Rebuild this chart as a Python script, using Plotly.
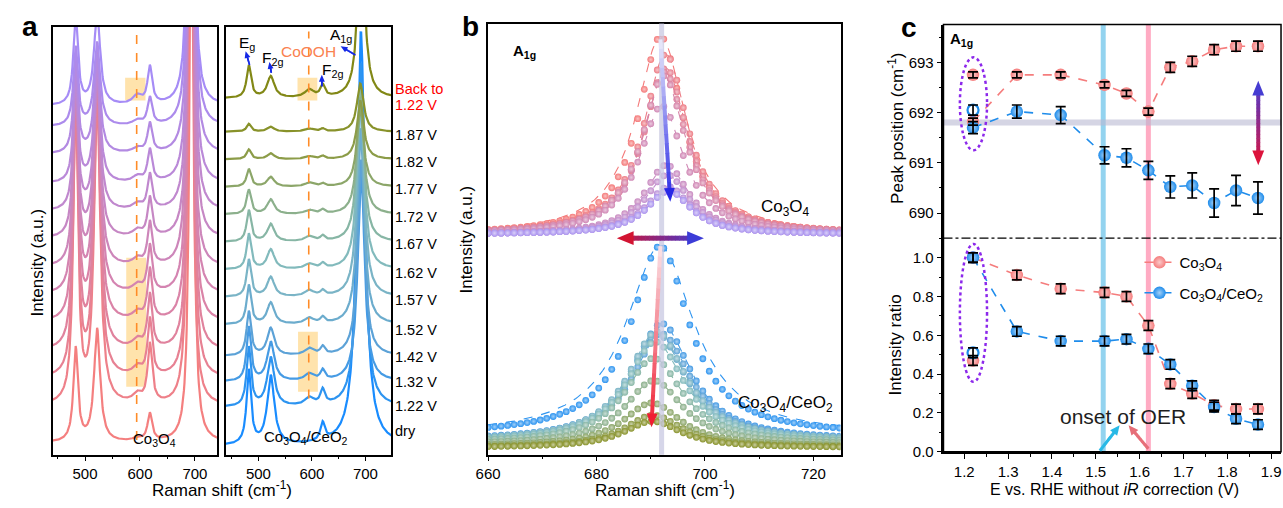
import numpy as np
import plotly.graph_objects as go

W, H = 1283, 508
FONT = "Arial, Liberation Sans, sans-serif"

# ---------------- data ----------------
potentials = [1.22, 1.32, 1.42, 1.52, 1.57, 1.62, 1.67, 1.72, 1.77, 1.82, 1.87]
pos_co = [691.82, 692.75, 692.75, 692.55, 692.38, 692.02, 692.90, 693.02, 693.25, 693.32, 693.32]
pos_co_err = [0.07, 0.06, 0.06, 0.06, 0.06, 0.07, 0.10, 0.10, 0.10, 0.10, 0.10]
pos_ce = [691.70, 692.02, 691.95, 691.15, 691.10, 690.85, 690.52, 690.55, 690.20, 690.45, 690.30]
pos_ce_err = [0.12, 0.13, 0.17, 0.17, 0.18, 0.18, 0.22, 0.25, 0.28, 0.30, 0.32]
pos_co_back, pos_co_back_err = 692.75, 0.06
pos_ce_back, pos_ce_back_err = 692.05, 0.10
ratio_co = [1.0, 0.91, 0.84, 0.82, 0.80, 0.65, 0.35, 0.30, 0.24, 0.22, 0.22]
ratio_ce = [1.0, 0.62, 0.57, 0.57, 0.58, 0.53, 0.45, 0.34, 0.23, 0.17, 0.14]
ratio_co_back, ratio_ce_back = 0.47, 0.51
ratio_err = 0.025
onset_ce, onset_co = 1.517, 1.62
ref_position = 691.8

# panel a: 13 spectra, index 0 = dry, 1..11 = potentials, 12 = back to 1.22 V
a_labels = ['dry', '1.22 V', '1.32 V', '1.42 V', '1.52 V', '1.57 V', '1.62 V', '1.67 V',
            '1.72 V', '1.77 V', '1.82 V', '1.87 V', 'Back to<br>1.22 V']
co_base = [12, 49, 77, 105, 134, 162, 190, 219, 247, 275, 305, 333, 354]
co_eg = [95, 310, 295, 280, 260, 235, 200, 165, 135, 110, 95, 80, 90]
co_f2g1 = [115, 320, 305, 290, 270, 245, 210, 175, 145, 120, 100, 85, 95]
co_f2g2 = [28, 60, 58, 55, 52, 48, 44, 40, 36, 33, 30, 28, 38]
co_cooh = [3, 9, 9, 9, 8, 8, 7, 7, 6, 6, 5, 5, 9]
co_a1g = [700, 800, 800, 800, 800, 800, 800, 800, 800, 800, 800, 800, 800]
co_a1g_c = [694.0] + pos_co + [pos_co_back]
ce_base = [9, 48, 74, 100, 132, 160, 188, 216, 244, 272, 300, 328, 362]
ce_eg = [75, 60, 55, 45, 40, 38, 36, 32, 25, 18, 10, 8, 33]
ce_f2g1 = [70, 50, 40, 28, 22, 20, 20, 18, 15, 10, 6, 5, 22]
ce_f2g2 = [18, 15, 10, 8, 6, 5, 5, 5, 4, 3, 3, 3, 12]
ce_cooh = [0, 8, 7, 7, 6, 6, 5, 5, 4, 4, 3, 3, 8]
ce_a1g = [421] + [r * 350 for r in ratio_ce] + [ratio_ce_back * 350]
ce_a1g_c = [691.5] + pos_ce + [pos_ce_back]

# ---------------- helpers ----------------
def pxx(x):
    return x / W

def pyy(y):
    return 1 - y / H

def lor(x, c, h, g):
    return h * g ** 2 / ((x - c) ** 2 + g ** 2)

def rgb(c):
    return 'rgb(%d,%d,%d)' % tuple(int(round(v)) for v in c)

def mix(c0, c1, t):
    return tuple(c0[k] + (c1[k] - c0[k]) * t for k in range(3))

WHITE = (255, 255, 255)
shapes = []
annotations = []

def tri(x, y, ux, uy, hl, hw, col):
    bx, by = x - ux * hl, y - uy * hl
    nx, ny = -uy, ux
    p = [(x, y), (bx + nx * hw / 2, by + ny * hw / 2), (bx - nx * hw / 2, by - ny * hw / 2)]
    path = 'M %f %f L %f %f L %f %f Z' % (pxx(p[0][0]), pyy(p[0][1]), pxx(p[1][0]), pyy(p[1][1]),
                                          pxx(p[2][0]), pyy(p[2][1]))
    shapes.append(dict(type='path', xref='paper', yref='paper', path=path,
                       fillcolor=rgb(col), line=dict(width=0)))

def grad_arrow(p0, p1, c0, c1, w, hl, hw, both=False, n=16):
    x0, y0 = p0
    x1, y1 = p1
    dx, dy = x1 - x0, y1 - y0
    L = (dx * dx + dy * dy) ** 0.5
    ux, uy = dx / L, dy / L
    s0 = hl * 0.8 if both else 0
    s1 = L - hl * 0.8
    for i in range(n):
        t0 = s0 + (s1 - s0) * i / n
        t1 = min(s1, s0 + (s1 - s0) * (i + 1) / n + 0.6)
        tm = (t0 + t1) / 2 / L
        shapes.append(dict(type='line', xref='paper', yref='paper',
                           x0=pxx(x0 + ux * t0), y0=pyy(y0 + uy * t0),
                           x1=pxx(x0 + ux * t1), y1=pyy(y0 + uy * t1),
                           line=dict(color=rgb(mix(c0, c1, tm)), width=w)))
    tri(x1, y1, ux, uy, hl, hw, c1)
    if both:
        tri(x0, y0, -ux, -uy, hl, hw, c0)

def text(x, y, s, size=15, color='black', xanchor='center', yanchor='middle', angle=0):
    annotations.append(dict(x=pxx(x), y=pyy(y), xref='paper', yref='paper', text=s,
                            showarrow=False, xanchor=xanchor, yanchor=yanchor, textangle=angle,
                            font=dict(family=FONT, size=size, color=color)))

def sphere(col, size, tint=0.6):
    return dict(size=size, color=rgb(col), line=dict(width=0),
                gradient=dict(type='radial', color=rgb(mix(col, WHITE, tint))))

fig = go.Figure()

# ---------------- panel a ----------------
x_a = np.arange(436, 752, 1.0)
co_bot, co_top = (244, 127, 127), (166, 140, 246)
for i in range(13):
    y = (co_base[i] + lor(x_a, 483, co_eg[i], 5) + lor(x_a, 522, co_f2g1[i], 6.5)
         + lor(x_a, 595, co_cooh[i], 10) + lor(x_a, 618, co_f2g2[i], 5)
         + lor(x_a, co_a1g_c[i], co_a1g[i], 4))
    fig.add_trace(go.Scatter(x=x_a, y=y, mode='lines', xaxis='x', yaxis='y', showlegend=False,
                             line=dict(color=rgb(mix(co_bot, co_top, i / 12)), width=2.2),
                             hoverinfo='skip'))

ce_cols = [(25, 140, 255), (45, 148, 240), (70, 155, 228), (92, 162, 215), (108, 172, 205),
           (122, 180, 198), (130, 186, 188), (135, 182, 165), (140, 176, 140), (140, 166, 105),
           (140, 156, 72), (136, 146, 42), (130, 136, 22)]
for i in range(13):
    y = (ce_base[i] + lor(x_a, 482, ce_eg[i], 5) + lor(x_a, 523, ce_f2g1[i], 8)
         + lor(x_a, 595, ce_cooh[i], 10) + lor(x_a, 620, ce_f2g2[i], 5)
         + lor(x_a, ce_a1g_c[i], ce_a1g[i], 9 if i == 0 else 7.5))
    fig.add_trace(go.Scatter(x=x_a, y=y, mode='lines', xaxis='x2', yaxis='y2', showlegend=False,
                             line=dict(color=rgb(ce_cols[i]), width=2.2), hoverinfo='skip'))

# highlight boxes and dashed CoOOH line (panel a)
hl_col = 'rgba(255,200,90,0.5)'
for xr, yr in (('x', 'y'), ('x2', 'y2')):
    shapes.append(dict(type='rect', xref=xr, yref=yr, x0=573, x1=610, y0=462 - 102, y1=462 - 79,
                       fillcolor=hl_col, line=dict(width=0), layer='below'))
shapes.append(dict(type='rect', xref='x', yref='y', x0=575, x1=611, y0=462 - 393, y1=462 - 262,
                   fillcolor=hl_col, line=dict(width=0), layer='below'))
shapes.append(dict(type='rect', xref='x2', yref='y2', x0=574, x1=611, y0=462 - 398, y1=462 - 337,
                   fillcolor=hl_col, line=dict(width=0), layer='below'))
shapes.append(dict(type='line', xref='x', yref='y', x0=594, x1=594, y0=15, y1=429,
                   line=dict(color='rgb(255,140,40)', width=1.6, dash='dash')))
shapes.append(dict(type='line', xref='x2', yref='y2', x0=594, x1=594, y0=57, y1=430,
                   line=dict(color='rgb(255,140,40)', width=1.6, dash='dash')))

label_py = [438, 413, 388, 363, 335, 305, 277, 248, 220, 192, 165, 137, 90]
for lab, yy in zip(a_labels, label_py):
    col = 'red' if lab.startswith('Back') else 'black'
    for k, part in enumerate(lab.split('<br>')):
        text(384, yy + 17 * k, part, size=14.5, color=col, xanchor='left')

text(143, 447, 'Co<sub>3</sub>O<sub>4</sub>', size=15)
text(296, 445, 'Co<sub>3</sub>O<sub>4</sub>/CeO<sub>2</sub>', size=15)
text(299, 52, 'CoOOH', size=15.5, color='rgb(250,130,80)')
text(236, 44, 'E<sub>g</sub>', size=15.5)
text(263, 59, 'F<sub>2g</sub>', size=15.5)
text(323, 72, 'F<sub>2g</sub>', size=15.5)
text(331, 36, 'A<sub>1g</sub>', size=15.5)
blue = (20, 40, 230)
grad_arrow((239, 66), (235, 52), blue, blue, 1.6, 7, 6)
grad_arrow((261, 74), (259, 63), blue, blue, 1.6, 7, 6)
grad_arrow((312, 88), (312, 76), blue, blue, 1.6, 7, 6)
grad_arrow((346, 56), (331, 47), blue, blue, 1.6, 7, 6)

text(25, 267, 'Intensity (a.u.)', size=17, angle=-90)
text(211, 497, 'Raman shift (cm<sup>-1</sup>)', size=17)
text(17, 27, '<b>a</b>', size=28)

# ---------------- panel b ----------------
x_b = np.arange(660, 725.01, 1.2)
x_f = np.linspace(660, 725, 400)
co_b_bot, co_b_top = (244, 122, 122), (172, 150, 240)
for i in range(11):
    col = mix(co_b_bot, co_b_top, i / 10)
    fig.add_trace(go.Scatter(x=x_f, y=224 + ratio_co[i] * lor(x_f, pos_co[i], 201, 5.6 if i == 0 else 5),
                             mode='lines', xaxis='x3', yaxis='y3', showlegend=False, hoverinfo='skip',
                             line=dict(color=rgb(col), width=1.1, dash='dash')))
    fig.add_trace(go.Scatter(x=x_b, y=224 + ratio_co[i] * lor(x_b, pos_co[i], 201, 5), mode='markers',
                             xaxis='x3', yaxis='y3', showlegend=False, hoverinfo='skip',
                             marker=sphere(col, 6.8, 0.55)))
for i in range(11):
    col = ce_cols[i + 1]
    fig.add_trace(go.Scatter(x=x_f, y=5 + ratio_ce[i] * (15 + lor(x_f, pos_ce[i], 192, 7.6 if i == 0 else 6.5)),
                             mode='lines', xaxis='x3', yaxis='y3', showlegend=False, hoverinfo='skip',
                             line=dict(color=rgb(col), width=1.1, dash='dash')))
    fig.add_trace(go.Scatter(x=x_b, y=5 + ratio_ce[i] * (15 + lor(x_b, pos_ce[i], 192, 6.5)),
                             mode='markers', xaxis='x3', yaxis='y3', showlegend=False, hoverinfo='skip',
                             marker=sphere(col, 6.8, 0.55)))

shapes.append(dict(type='line', xref='x3', yref='paper', x0=692.0, x1=692.0, y0=pyy(462), y1=pyy(24),
                   line=dict(color='rgba(200,200,225,0.75)', width=5), layer='above'))
grad_arrow((654, 40), (664, 205), (235, 235, 250), (40, 40, 230), 4, 14, 11)
grad_arrow((654, 250), (645, 434), (250, 228, 232), (240, 30, 50), 4, 14, 11)
grad_arrow((610, 242), (698, 242), (210, 20, 50), (60, 60, 215), 5, 17, 14, both=True)

text(517, 52, '<b>A<sub>1g</sub></b>', size=15)
text(780, 211, 'Co<sub>3</sub>O<sub>4</sub>', size=17)
text(780, 410, 'Co<sub>3</sub>O<sub>4</sub>/CeO<sub>2</sub>', size=17)
text(458, 243, 'Intensity (a.u.)', size=17, angle=-90)
text(659, 497, 'Raman shift (cm<sup>-1</sup>)', size=17)
text(462, 27, '<b>b</b>', size=28)

# ---------------- panel c ----------------
RED_C = (245, 125, 125)
BLUE_C = (30, 140, 235)
RED = rgb(RED_C)
BLUE = rgb(BLUE_C)

def err_trace(x, y, e, xa, ya):
    return go.Scatter(x=x, y=y, mode='markers', xaxis=xa, yaxis=ya, showlegend=False,
                      hoverinfo='skip', marker=dict(size=1, color='rgba(0,0,0,0)'),
                      error_y=dict(type='data', array=e, color='black', thickness=1.7, width=5))

# top: peak position
fig.add_trace(go.Scatter(x=potentials, y=pos_co, mode='lines+markers', xaxis='x4', yaxis='y4',
                         showlegend=False, line=dict(color=RED, width=1.6, dash='dash'),
                         marker=sphere(RED_C, 12.5)))
fig.add_trace(go.Scatter(x=[potentials[0]], y=[pos_co_back], mode='markers', xaxis='x4', yaxis='y4',
                         showlegend=False, marker=sphere(RED_C, 12.5)))
fig.add_trace(go.Scatter(x=potentials, y=pos_ce, mode='lines+markers', xaxis='x4', yaxis='y4',
                         showlegend=False, line=dict(color=BLUE, width=1.6, dash='dash'),
                         marker=sphere(BLUE_C, 12.5)))
fig.add_trace(go.Scatter(x=[potentials[0]], y=[pos_ce_back], mode='markers', xaxis='x4', yaxis='y4',
                         showlegend=False, marker=dict(size=11, color='white', line=dict(color=BLUE, width=2.2))))
fig.add_trace(err_trace(potentials + [potentials[0]], pos_co + [pos_co_back], pos_co_err + [pos_co_back_err], 'x4', 'y4'))
fig.add_trace(err_trace(potentials + [potentials[0]], pos_ce + [pos_ce_back], pos_ce_err + [pos_ce_back_err], 'x4', 'y4'))

# bottom: intensity ratio
fig.add_trace(go.Scatter(x=potentials, y=ratio_co, mode='lines+markers', xaxis='x5', yaxis='y5',
                         name='Co<sub>3</sub>O<sub>4</sub>', legendgroup='a',
                         line=dict(color=RED, width=1.6, dash='dash'), marker=sphere(RED_C, 12.5)))
fig.add_trace(go.Scatter(x=potentials, y=ratio_ce, mode='lines+markers', xaxis='x5', yaxis='y5',
                         name='Co<sub>3</sub>O<sub>4</sub>/CeO<sub>2</sub>', legendgroup='b',
                         line=dict(color=BLUE, width=1.6, dash='dash'), marker=sphere(BLUE_C, 12.5)))
fig.add_trace(go.Scatter(x=[potentials[0]], y=[ratio_co_back], mode='markers', xaxis='x5', yaxis='y5',
                         showlegend=False, marker=sphere(RED_C, 12.5)))
fig.add_trace(go.Scatter(x=[potentials[0]], y=[ratio_ce_back], mode='markers', xaxis='x5', yaxis='y5',
                         showlegend=False, marker=dict(size=11, color='white', line=dict(color=BLUE, width=2.2))))
fig.add_trace(err_trace(potentials + [potentials[0]], ratio_co + [ratio_co_back], [ratio_err] * 12, 'x5', 'y5'))
fig.add_trace(err_trace(potentials + [potentials[0]], ratio_ce + [ratio_ce_back], [ratio_err] * 12, 'x5', 'y5'))

# panel c decorations
shapes.append(dict(type='line', xref='x5', yref='paper', x0=onset_ce, x1=onset_ce, y0=pyy(459), y1=pyy(25),
                   line=dict(color='rgba(120,200,235,0.8)', width=5), layer='below'))
shapes.append(dict(type='line', xref='x5', yref='paper', x0=onset_co, x1=onset_co, y0=pyy(459), y1=pyy(25),
                   line=dict(color='rgba(255,150,180,0.8)', width=5), layer='below'))
shapes.append(dict(type='line', xref='x4 domain', yref='y4', x0=0, x1=1, y0=ref_position, y1=ref_position,
                   line=dict(color='rgba(185,185,210,0.6)', width=6), layer='below'))
shapes.append(dict(type='circle', xref='x4', yref='y4', x0=1.19, x1=1.252, y0=691.25, y1=693.1,
                   line=dict(color='rgb(140,40,235)', width=2.5, dash='dot')))
shapes.append(dict(type='circle', xref='x5', yref='y5', x0=1.19, x1=1.252, y0=0.36, y1=1.07,
                   line=dict(color='rgb(140,40,235)', width=2.5, dash='dot')))
shapes.append(dict(type='rect', xref='paper', yref='paper', x0=pxx(940), x1=pxx(1281), y0=pyy(459), y1=pyy(25),
                   line=dict(color='black', width=1.5)))
shapes.append(dict(type='line', xref='paper', yref='paper', x0=pxx(940), x1=pxx(1281), y0=pyy(242), y1=pyy(242),
                   line=dict(color='black', width=1.2, dash='dashdot')))
grad_arrow((1258, 82), (1258, 168), (70, 60, 210), (220, 20, 60), 4, 15, 12, both=True)
grad_arrow((1098, 458), (1118, 432), (40, 185, 230), (40, 185, 230), 3, 10, 9)
grad_arrow((1147, 456), (1127, 432), (230, 110, 120), (230, 110, 120), 3, 10, 9)

text(1121, 423, 'onset of OER', size=21, color='rgb(30,30,30)')
text(958, 40, '<b>A<sub>1g</sub></b>', size=15)
text(892, 130, 'Peak position (cm<sup>-1</sup>)', size=17, angle=-90)
text(892, 350, 'Intensity ratio', size=17, angle=-90)
text(1113, 497, 'E vs. RHE without <i>iR</i> correction (V)', size=16)
text(905, 28, '<b>c</b>', size=28)

# ---------------- axes ----------------
ax_common = dict(showline=True, linecolor='black', linewidth=1.5, showgrid=False, zeroline=False,
                 tickfont=dict(family=FONT, size=15, color='black'), ticks='outside', ticklen=5,
                 tickwidth=1.3, tickcolor='black')
noy = dict(showline=True, linecolor='black', linewidth=1.5, showgrid=False, zeroline=False,
           showticklabels=False, ticks='', mirror=True)

layout = dict(
    width=W, height=H, margin=dict(l=0, r=0, t=0, b=0), paper_bgcolor='white', plot_bgcolor='rgba(0,0,0,0)',
    font=dict(family=FONT, color='black'),
    xaxis=dict(domain=[pxx(40), pxx(206)], range=[441, 740], anchor='y', tickvals=[500, 600, 700],
               mirror=True, minor=dict(tickvals=[450, 550, 650], ticklen=3, ticks='outside',
                                       tickcolor='black'), **ax_common),
    yaxis=dict(domain=[pyy(462), pyy(27)], range=[0, 435], anchor='x', **noy),
    xaxis2=dict(domain=[pxx(215), pxx(382)], range=[439, 748], anchor='y2', tickvals=[500, 600, 700],
                mirror=True, minor=dict(tickvals=[450, 550, 650], ticklen=3, ticks='outside',
                                        tickcolor='black'), **ax_common),
    yaxis2=dict(domain=[pyy(462), pyy(27)], range=[0, 435], anchor='x2', **noy),
    xaxis3=dict(domain=[pxx(480), pxx(836)], range=[660, 725], anchor='y3', tickvals=[660, 680, 700, 720],
                mirror=True, minor=dict(tickvals=[670, 690, 710], ticklen=3, ticks='outside',
                                        tickcolor='black'), **ax_common),
    yaxis3=dict(domain=[pyy(462), pyy(24)], range=[0, 438], anchor='x3', **noy),
    xaxis4=dict(domain=[pxx(940), pxx(1281)], range=[1.1526, 1.9226], anchor='y4', showline=False,
                showticklabels=False, ticks='', showgrid=False, zeroline=False),
    yaxis4=dict(domain=[pyy(242), pyy(25)], range=[689.5, 693.75], anchor='x4', tickvals=[690, 691, 692, 693],
                minor=dict(tickvals=[689.5, 690.5, 691.5, 692.5, 693.5], ticklen=3, ticks='outside',
                           tickcolor='black'), **ax_common),
    xaxis5=dict(domain=[pxx(940), pxx(1281)], range=[1.1526, 1.9226], anchor='y5',
                tickvals=[1.2, 1.3, 1.4, 1.5, 1.6, 1.7, 1.8, 1.9], tickformat='.1f',
                minor=dict(tickvals=[1.25, 1.35, 1.45, 1.55, 1.65, 1.75, 1.85], ticklen=3, ticks='outside',
                           tickcolor='black'), **ax_common),
    yaxis5=dict(domain=[pyy(459), pyy(242)], range=[0, 1.1], anchor='x5',
                tickvals=[0, 0.2, 0.4, 0.6, 0.8, 1.0], tickformat='.1f',
                minor=dict(tickvals=[0.1, 0.3, 0.5, 0.7, 0.9], ticklen=3, ticks='outside', tickcolor='black'),
                **ax_common),
    showlegend=True,
    legend=dict(x=pxx(1138), y=pyy(250), xanchor='left', yanchor='top', bgcolor='rgba(0,0,0,0)',
                font=dict(family=FONT, size=15, color='black'), tracegroupgap=8, itemwidth=30),
    shapes=shapes, annotations=annotations,
)
fig.update_layout(**layout)
fig.write_html("out.html", config={'displayModeBar': False},
               post_script="document.body.style.margin='0px';document.body.style.overflow='hidden';")
